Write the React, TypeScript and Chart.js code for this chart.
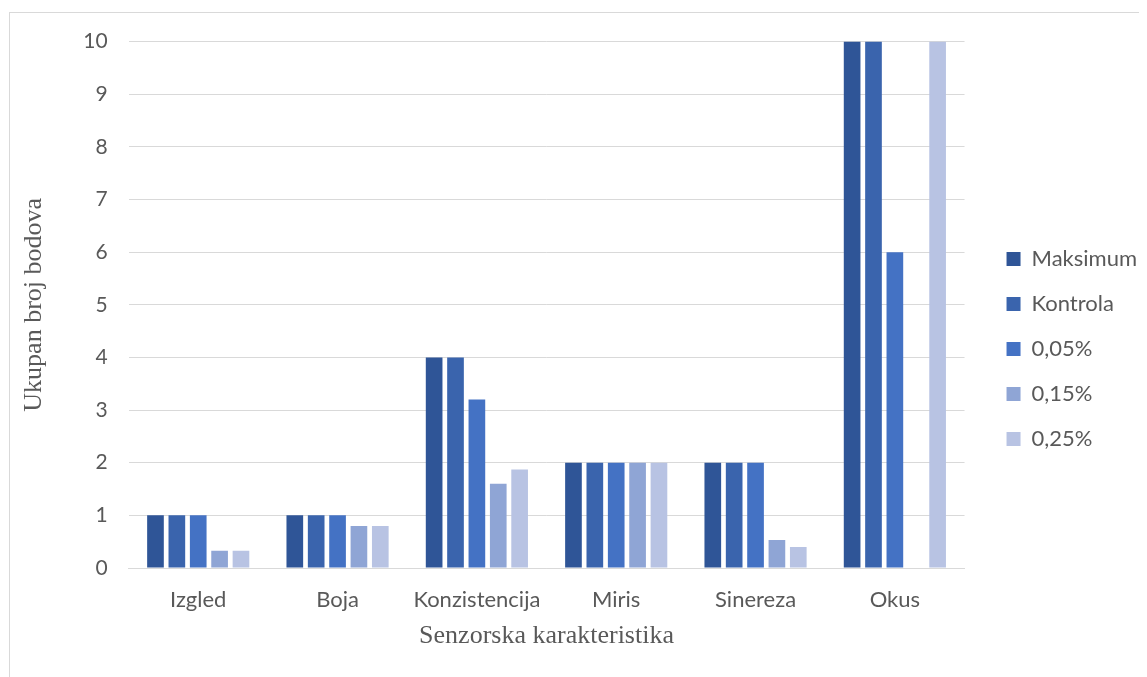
import React, { useEffect, useRef } from "react";
import { Chart, registerables } from "chart.js";

Chart.register(...registerables);

const categories = ["Izgled", "Boja", "Konzistencija", "Miris", "Sinereza", "Okus"];
const seriesNames = ["Maksimum", "Kontrola", "0,05%", "0,15%", "0,25%"];
const maksimum = [1, 1, 4, 2, 2, 10];
const kontrola = [1, 1, 4, 2, 2, 10];
const p005 = [1, 1, 3.2, 2, 2, 6];
const p015 = [0.33, 0.8, 1.6, 2, 0.53, 0];
const p025 = [0.33, 0.8, 1.87, 2, 0.4, 10];
const seriesColors = ["#2F5597", "#3A64AD", "#4472C4", "#8FA5D5", "#B8C3E3"];
const yTicks = [0, 1, 2, 3, 4, 5, 6, 7, 8, 9, 10];
const yTitle = "Ukupan broj bodova";
const xTitle = "Senzorska karakteristika";

export default function App() {
  const ref = useRef<HTMLCanvasElement | null>(null);

  useEffect(() => {
    if (!ref.current) return;
    const values = [maksimum, kontrola, p005, p015, p025];
    const chart = new Chart(ref.current, {
      type: "bar",
      data: {
        labels: categories,
        datasets: seriesNames.map((name, i) => ({
          label: name,
          data: values[i],
          backgroundColor: seriesColors[i],
          borderWidth: 0,
          categoryPercentage: 0.767,
          barPercentage: 0.78,
        })),
      },
      options: {
        animation: false,
        responsive: false,
        maintainAspectRatio: false,
        layout: { padding: { top: 24, right: 0, bottom: 25, left: 6 } },
        plugins: {
          tooltip: { enabled: false },
          legend: {
            position: "right",
            title: {
              display: true,
              text: " ",
              font: { size: 10 },
              padding: { top: 1, bottom: 1 },
            },
            labels: {
              boxWidth: 14,
              boxHeight: 14,
              padding: 23,
              color: "#595959",
              font: { family: "Lato", size: 22 },
            },
          },
        },
        scales: {
          x: {
            grid: { display: false, drawTicks: false },
            border: { display: true, color: "#d9d9d9", width: 1 },
            ticks: {
              color: "#595959",
              font: { family: "Lato", size: 22 },
              padding: 19,
              maxRotation: 0,
            },
            title: {
              display: true,
              text: xTitle,
              color: "#595959",
              font: { family: "Liberation Serif", size: 26 },
              padding: { top: 7, bottom: 0 },
            },
            afterFit: (s: any) => {
              s.height = 84;
            },
          },
          y: {
            min: 0,
            max: 10,
            afterBuildTicks: (s: any) => {
              s.ticks = yTicks.map((v) => ({ value: v }));
            },
            grid: { color: "#d9d9d9", drawTicks: false, lineWidth: 1 },
            border: { display: false },
            ticks: {
              color: "#595959",
              font: { family: "Lato", size: 21 },
              padding: 21,
            },
            title: {
              display: true,
              text: yTitle,
              color: "#595959",
              font: { family: "Liberation Serif", size: 26 },
              padding: { top: 5, bottom: 12 },
            },
          },
          y2: {
            position: "right",
            display: true,
            grid: { display: false },
            border: { display: false },
            ticks: { display: false },
            afterFit: (s: any) => {
              s.width = 19;
            },
          },
        },
      },
    });
    return () => chart.destroy();
  }, []);

  return (
    <div style={{ position: "relative", width: 1139, height: 669 }}>
      <div
        style={{
          position: "absolute",
          left: 1,
          top: 4,
          right: 0,
          bottom: 0,
          borderLeft: "1px solid #d9d9d9",
          borderTop: "1px solid #d9d9d9",
        }}
      />
      <canvas ref={ref} width={1139} height={669} style={{ position: "absolute", left: 0, top: 0 }} />
    </div>
  );
}
